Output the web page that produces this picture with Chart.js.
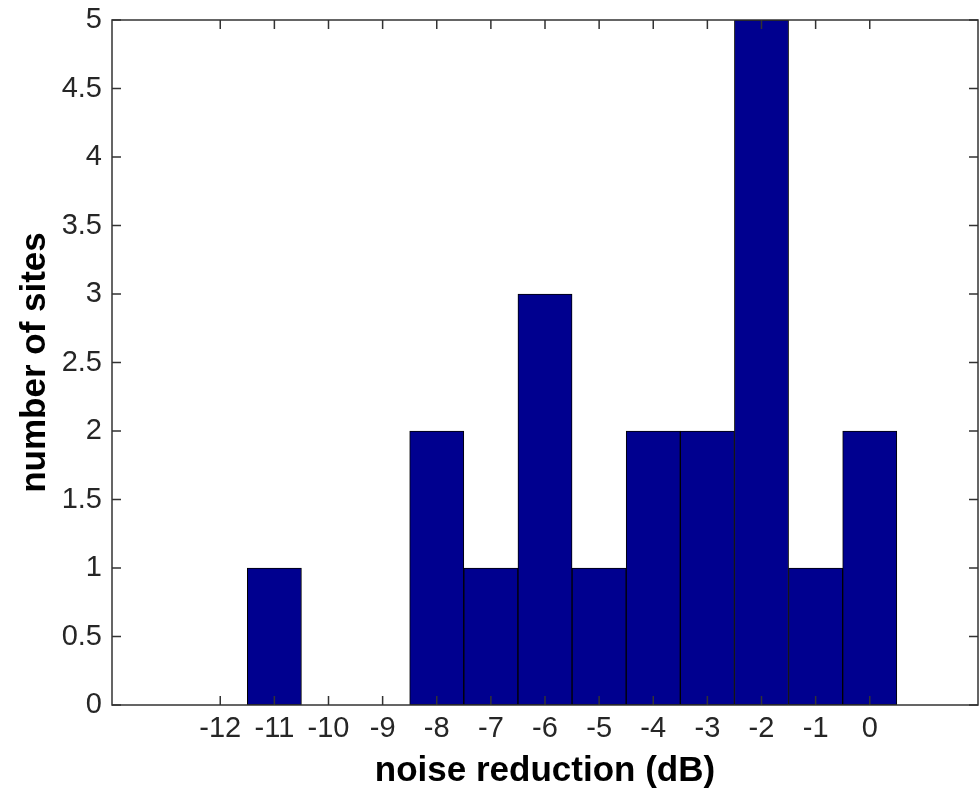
<!DOCTYPE html>
<html>
<head>
<meta charset="utf-8">
<script src="https://cdn.jsdelivr.net/npm/chart.js@4"></script>
<style>
  body { margin: 0; background: #fff; }
</style>
</head>
<body>
<canvas id="histChart" width="979" height="792"></canvas>
<script>
// histogram bins (dB) and counts
const bins = [-12, -11, -10, -9, -8, -7, -6, -5, -4, -3, -2, -1, 0];
const counts = [0, 1, 0, 0, 2, 1, 3, 1, 2, 2, 5, 1, 2];
const xTickLabels = [-12, -11, -10, -9, -8, -7, -6, -5, -4, -3, -2, -1, 0];

// matlab style box with inward ticks
const boxTicks = {
    id: 'boxTicks',
    afterDraw(chart) {
        const ctx = chart.ctx;
        const a = chart.chartArea;
        const xs = chart.scales.x, ys = chart.scales.y;
        const len = 9;
        ctx.save();
        ctx.strokeStyle = '#333';
        ctx.lineWidth = 1.5;
        ctx.beginPath();
        xs.ticks.forEach(function (t) {
            const px = xs.getPixelForValue(t.value);
            ctx.moveTo(px, a.bottom); ctx.lineTo(px, a.bottom - len);
            ctx.moveTo(px, a.top); ctx.lineTo(px, a.top + len);
        });
        ys.ticks.forEach(function (t) {
            const py = ys.getPixelForValue(t.value);
            ctx.moveTo(a.left, py); ctx.lineTo(a.left + len, py);
            ctx.moveTo(a.right, py); ctx.lineTo(a.right - len, py);
        });
        ctx.stroke();
        ctx.strokeRect(a.left, a.top, a.right - a.left, a.bottom - a.top);
        ctx.restore();
    }
};

const ctx = document.getElementById('histChart').getContext('2d');

new Chart(ctx, {
    type: 'bar',
    data: {
        datasets: [{
            data: bins.map((b, i) => ({ x: b, y: counts[i] })),
            backgroundColor: '#00008F',
            borderColor: '#000',
            borderWidth: 1,
            borderSkipped: false,
            barPercentage: 1,
            categoryPercentage: 1
        }]
    },
    options: {
        responsive: false,
        animation: false,
        layout: { padding: { left: 0, top: 20, right: 1, bottom: 0 } },
        plugins: {
            legend: { display: false },
            tooltip: { enabled: false }
        },
        scales: {
            x: {
                type: 'linear',
                offset: false,
                min: -14,
                max: 2,
                afterBuildTicks: function (scale) {
                    scale.ticks = xTickLabels.map(v => ({ value: v }));
                },
                afterFit: function (scale) {
                    scale.height = 87;
                    scale.paddingLeft = 0;
                    scale.paddingRight = 0;
                },
                grid: { display: false, drawTicks: false },
                border: { display: false },
                ticks: {
                    padding: 7,
                    autoSkip: false,
                    maxRotation: 0,
                    color: '#262626',
                    font: { family: 'Arial, "Liberation Sans", sans-serif', size: 29 }
                },
                title: {
                    display: true,
                    text: 'noise reduction (dB)',
                    color: '#000',
                    padding: { top: 0, bottom: 0 },
                    font: { family: 'Arial, "Liberation Sans", sans-serif', size: 35, weight: 'bold' }
                }
            },
            y: {
                min: 0,
                max: 5,
                afterFit: function (scale) {
                    scale.width = 112;
                    scale.paddingTop = 0;
                    scale.paddingBottom = 0;
                },
                grid: { display: false, drawTicks: false },
                border: { display: false },
                ticks: {
                    stepSize: 0.5,
                    padding: 10,
                    color: '#262626',
                    callback: v => String(v),
                    font: { family: 'Arial, "Liberation Sans", sans-serif', size: 29 }
                },
                title: {
                    display: true,
                    text: 'number of sites',
                    color: '#000',
                    padding: { top: 14, bottom: 0 },
                    font: { family: 'Arial, "Liberation Sans", sans-serif', size: 35, weight: 'bold' }
                }
            }
        }
    },
    plugins: [boxTicks]
});
</script>
</body>
</html>
